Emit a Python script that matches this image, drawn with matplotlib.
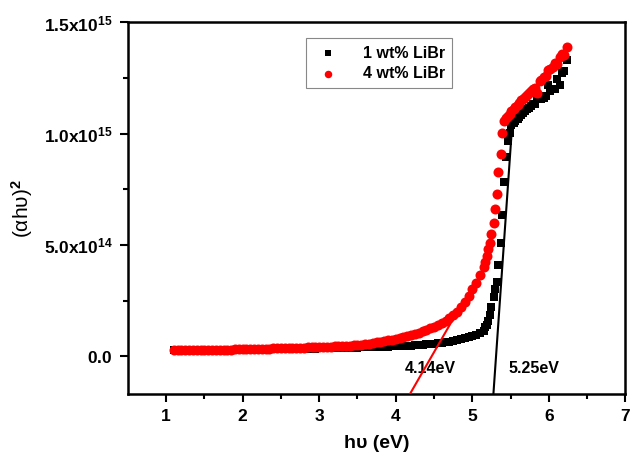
"""Tauc plot of (alpha h nu)^2 vs photon energy for two LiBr loadings."""

import numpy as np
import matplotlib
matplotlib.use("Agg")
import matplotlib.pyplot as plt

plt.rcParams['font.family'] = ['Liberation Sans', 'DejaVu Sans']
plt.rcParams['mathtext.fontset'] = 'custom'
plt.rcParams['mathtext.rm'] = 'Liberation Sans'
plt.rcParams['mathtext.it'] = 'Liberation Sans'
plt.rcParams['mathtext.bf'] = 'Liberation Sans:bold'

# photon energy (eV), flat part of the curves (both samples share the grid)
hv_low = [1.10, 1.15, 1.20, 1.25, 1.30, 1.35, 1.40, 1.45, 1.50, 1.55,
          1.60, 1.65, 1.70, 1.75, 1.80, 1.85, 1.90, 1.95, 2.00,
          2.05, 2.10, 2.15, 2.20, 2.25, 2.30, 2.35, 2.40, 2.45, 2.50,
          2.55, 2.60, 2.65, 2.70, 2.75, 2.80, 2.85, 2.90, 2.95, 3.00,
          3.05, 3.10, 3.15, 3.20, 3.25, 3.30, 3.35, 3.40, 3.45, 3.50,
          3.55, 3.60, 3.65, 3.70, 3.75, 3.80, 3.85, 3.90,
          3.95, 4.00, 4.05, 4.10, 4.15, 4.20, 4.25, 4.30,
          4.35, 4.40, 4.45, 4.50, 4.55, 4.60,
          4.65, 4.70, 4.75, 4.80,
          4.85, 4.90, 4.95, 5.00,
          5.05, 5.10, 5.15]
# photon energy (eV), edge and high-energy part
hv_high = [5.17, 5.19, 5.21, 5.23, 5.25, 5.28, 5.30, 5.32, 5.34, 5.37,
           5.39, 5.41, 5.44, 5.46, 5.49, 5.51, 5.54, 5.56, 5.59, 5.61,
           5.64, 5.66, 5.69, 5.71, 5.74, 5.77, 5.79, 5.82, 5.85, 5.88,
           5.90, 5.93, 5.96, 5.99, 6.02, 6.05, 6.08, 6.11, 6.14, 6.17,
           6.20, 6.23]

# (alpha h nu)^2 in units of 1e13
wt1_low = [2.7, 2.7, 2.7, 2.7, 2.7, 2.75, 2.75, 2.75, 2.75, 2.8,
           2.8, 2.8, 2.8, 2.85, 2.85, 2.85, 2.85, 2.9, 2.9,
           2.9, 2.95, 2.95, 3.0, 3.0, 3.05, 3.05, 3.1, 3.1, 3.15,
           3.15, 3.2, 3.25, 3.25, 3.3, 3.35, 3.4, 3.4, 3.45, 3.5,
           3.55, 3.6, 3.6, 3.65, 3.7, 3.75, 3.75, 3.8, 3.85, 3.9,
           3.95, 4.0, 4.05, 4.1, 4.15, 4.2, 4.25, 4.3,
           4.4, 4.45, 4.55, 4.6, 4.7, 4.8, 4.9, 5.0,
           5.15, 5.3, 5.5, 5.65, 5.8, 6.0,
           6.3, 6.6, 6.9, 7.3,
           7.7, 8.1, 8.5, 9.0,
           9.7, 10.5, 11.5]
wt4_low = [2.8, 2.8, 2.8, 2.8, 2.8, 2.85, 2.85, 2.85, 2.9, 2.9,
           2.9, 2.95, 2.95, 3.0, 3.0, 3.0, 3.05, 3.05, 3.1,
           3.15, 3.2, 3.25, 3.3, 3.35, 3.4, 3.45, 3.5, 3.55, 3.6,
           3.65, 3.7, 3.75, 3.8, 3.85, 3.9, 3.95, 4.0, 4.05, 4.1,
           4.15, 4.25, 4.3, 4.4, 4.5, 4.6, 4.7, 4.8, 4.9, 5.0,
           5.2, 5.4, 5.6, 5.9, 6.2, 6.5, 6.8, 7.1,
           7.5, 7.9, 8.3, 8.7, 9.1, 9.5, 10.0, 10.5,
           11.1, 11.8, 12.5, 13.2, 14.0, 15.0,
           16.0, 17.2, 18.5, 20.0,
           22.0, 24.3, 27.0, 30.0,
           33.0, 36.5, 40.0]
wt1_high = [13.0, 14.2, 16.0, 18.5, 22.0, 26.7, 30.0, 33.5, 41.0, 50.7,
            63.4, 78.4, 89.6, 96.6, 100.4, 103.8, 105.0, 105.5, 106.5, 107.5,
            108.5, 109.5, 110.0, 111.0, 111.5, 112.5, 113.5, 113.5, 115.5, 116.5,
            115.5, 116.0, 117.0, 122.0, 119.0, 120.0, 120.0, 124.5, 122.0, 127.5,
            128.0, 133.0]
wt4_high = [42.5, 45.0, 48.0, 50.7, 55.0, 60.0, 66.0, 73.0, 83.0, 91.0,
            100.5, 105.5, 107.0, 108.0, 109.0, 110.0, 111.0, 112.0, 113.0, 114.0,
            115.0, 115.5, 116.5, 117.5, 118.5, 119.0, 120.0, 120.5, 118.5, 123.5,
            124.0, 125.5, 126.0, 128.5, 129.0, 130.0, 132.0, 131.5, 134.5, 136.0,
            135.5, 139.0]

# linear fits to the absorption edges (eV, 1e13 units)
fit_4_x = [4.185, 4.74]
fit_4_y = [-17.0, 16.2]
fit_1_x = [5.275, 5.52]
fit_1_y = [-17.0, 104.0]

series_labels = ["1 wt% LiBr", "4 wt% LiBr"]
gap_labels = ["4.14eV", "5.25eV"]
gap_pos_x = [4.45, 5.81]
gap_pos_y = [-5.4, -5.4]

x_ticks = [1, 2, 3, 4, 5, 6, 7]
y_ticks = [0, 50, 100, 150]
y_tick_labels = [r"$\mathbf{0.0}$", r"$\mathbf{5.0x10^{14}}$",
                 r"$\mathbf{1.0x10^{15}}$", r"$\mathbf{1.5x10^{15}}$"]

fig = plt.figure(figsize=(6.32, 4.59), dpi=100)
ax = fig.add_axes([0.2022, 0.1416, 0.7875, 0.8094])

ax.scatter(hv_low + hv_high, np.array(wt1_low + wt1_high), marker='s', s=34,
           color='black', linewidths=0, label=series_labels[0], zorder=2)
ax.scatter(hv_low + hv_high, np.array(wt4_low + wt4_high), marker='o', s=52,
           color='#ff0000', linewidths=0, label=series_labels[1], zorder=3)
ax.plot(fit_4_x, fit_4_y, color='#ff0000', lw=1.5, zorder=4)
ax.plot(fit_1_x, fit_1_y, color='black', lw=1.5, zorder=4)

for lab, gx, gy in zip(gap_labels, gap_pos_x, gap_pos_y):
    ax.text(gx, gy, lab, ha='center', va='center', fontsize=11.5, fontweight='bold')

ax.set_xlim(0.5, 7.0)
ax.set_ylim(-17.0, 150.0)
ax.set_xticks(x_ticks)
ax.set_xticks(np.array(x_ticks[:-1]) + 0.5, minor=True)
ax.set_yticks(y_ticks, labels=y_tick_labels)
ax.set_yticks([25, 75, 125], minor=True)
for t in ax.get_xticklabels():
    t.set_fontweight('bold')
ax.tick_params(which='major', direction='out', length=6, width=1.5, labelsize=12.5, pad=5)
ax.tick_params(which='minor', direction='out', length=3.5, width=1.5)
for sp in ax.spines.values():
    sp.set_linewidth(1.8)

ax.set_xlabel("h\u03c5 (eV)", fontsize=14, fontweight='bold', labelpad=8)
ax.set_ylabel(r"$\mathrm{(\alpha h\upsilon)}^{\mathbf{2}}$", fontsize=15, labelpad=6)

leg = ax.legend(loc='upper left', bbox_to_anchor=(0.358, 0.957), fancybox=False,
                edgecolor='#888888', framealpha=1, prop={'weight': 'bold', 'size': 11.5},
                handletextpad=1.3, borderpad=0.45, labelspacing=0.35, handlelength=1.8,
                markerscale=0.75, borderaxespad=0)
leg.get_frame().set_linewidth(0.8)

fig.savefig("out.png", dpi=100)
